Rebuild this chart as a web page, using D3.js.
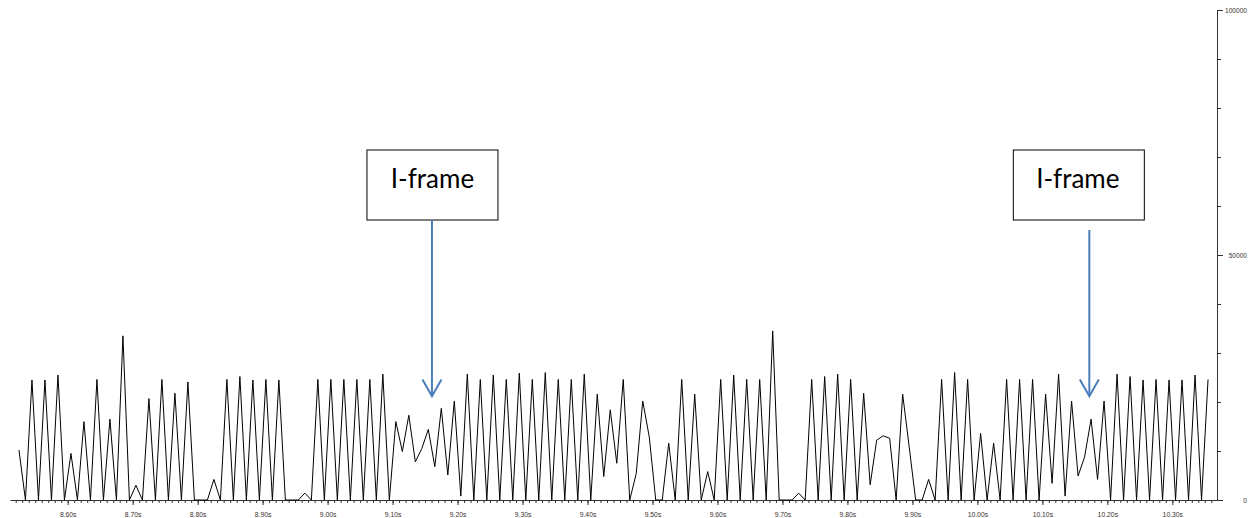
<!DOCTYPE html>
<html>
<head>
<meta charset="utf-8">
<script src="https://cdn.jsdelivr.net/npm/d3@7/dist/d3.min.js"></script>
<style>
  html, body { margin: 0; padding: 0; background: #fff; }
  svg { display: block; }
</style>
</head>
<body>
<svg id="chart" width="1250" height="518"></svg>
<script>
// ---- data ----
const startTime = 8.525;      // time of first sample (s)
const sampleStep = 0.01;      // sampling interval (s)
const values = [
  10200, 0, 24500, 0, 24500, 0, 25500, 0, 9500, 0,
  16000, 0, 24600, 0, 16500, 0, 33500, 0, 3000, 0,
  20700, 0, 24600, 0, 21800, 0, 24100, 0, 0, 0,
  4200, 0, 24600, 0, 25200, 0, 24500, 0, 24600, 0,
  24500, 0, 0, 0, 1400, 0, 24600, 0, 24600, 0,
  24600, 0, 24600, 0, 24600, 0, 25700, 0, 16000, 9900,
  17300, 7800, 10500, 14400, 6800, 18700, 5100, 20200, 800, 25700,
  0, 24600, 0, 25500, 0, 24600, 0, 25900, 0, 24600,
  0, 26000, 0, 24600, 0, 24600, 0, 25700, 0, 21600,
  4800, 18400, 7500, 24600, 0, 5400, 20200, 12900, 0, 0,
  11600, 0, 24600, 0, 21600, 0, 5800, 0, 24600, 0,
  25500, 0, 24600, 0, 24600, 0, 34500, 0, 0, 0,
  1400, 0, 24600, 0, 25200, 0, 25700, 0, 24600, 0,
  21800, 3100, 12200, 13100, 12600, 0, 21600, 10900, 0, 0,
  4200, 0, 24600, 0, 26000, 0, 24600, 0, 13600, 0,
  11600, 0, 24600, 0, 24600, 0, 24600, 0, 21600, 3400,
  25700, 800, 20200, 4900, 8800, 16500, 4200, 20200, 0, 25700,
  0, 25200, 0, 24500, 0, 24600, 0, 24500, 0, 24500,
  0, 25500, 0, 24600
];
const majorXTicks = [8.6, 8.7, 8.8, 8.9, 9.0, 9.1, 9.2, 9.3, 9.4, 9.5, 9.6, 9.7, 9.8, 9.9, 10.0, 10.1, 10.2, 10.3];
const yLabelTicks = [0, 50000, 100000];
const annotationLabels = ["I-frame", "I-frame"];
const annotationTimes = [9.1606, 10.1723];   // arrow x positions (s)
const annotationTipValues = [21200, 21200];  // arrow tip heights

// ---- scales ----
const svg = d3.select("#chart");
const pxPerSec = (1172.3 - 67.7) / 1.7;
const x = d3.scaleLinear()
  .domain([8.6 - (67.7 - 10) / pxPerSec, 10.3 + (1217 - 1172.3) / pxPerSec])
  .range([10, 1217]);
const y = d3.scaleLinear().domain([0, 100000]).range([500, 10]);

const data = values.map((v, i) => ({ t: startTime + i * sampleStep, v }));

// ---- x axis ----
const minorX = d3.range(852, 1037).map(d => d / 100);
const axisColor = "#333";
const gxMinor = svg.append("g").attr("transform", "translate(0,500)")
  .call(d3.axisBottom(x).tickValues(minorX).tickSize(3).tickSizeOuter(0).tickFormat(""));
gxMinor.attr("color", axisColor);

const gxMajor = svg.append("g").attr("transform", "translate(0,500)")
  .call(d3.axisBottom(x).tickValues(majorXTicks).tickSize(5)
    .tickFormat(d => d3.format(".2f")(d) + "s"));
gxMajor.attr("color", axisColor);
gxMajor.select(".domain").remove();
gxMajor.selectAll("text")
  .attr("font-family", "Liberation Sans, Arial, sans-serif")
  .attr("font-size", "6.8px")
  .attr("fill", "#3a3430")
  .attr("y", 17).attr("dy", 0);

// ---- y axis (right) ----
const gyMinor = svg.append("g").attr("transform", "translate(1217,0)")
  .call(d3.axisRight(y).tickValues(d3.range(0, 100001, 10000)).tickSize(4).tickSizeOuter(0).tickFormat(""));
gyMinor.attr("color", axisColor);

const gyMajor = svg.append("g").attr("transform", "translate(1217,0)")
  .call(d3.axisRight(y).tickValues(yLabelTicks).tickSize(6).tickFormat(d3.format("d")));
gyMajor.attr("color", axisColor);
gyMajor.select(".domain").remove();
gyMajor.selectAll("text")
  .attr("font-family", "Liberation Sans, Arial, sans-serif")
  .attr("font-size", "6.6px")
  .attr("fill", "#3a3430")
  .attr("text-anchor", "end")
  .attr("x", 30);

// ---- line ----
const line = d3.line().x(d => x(d.t)).y(d => y(d.v));
svg.append("path")
  .datum(data)
  .attr("fill", "none")
  .attr("stroke", "#000")
  .attr("stroke-width", 1)
  .attr("d", line);

// ---- annotations ----
const boxW = 131, boxH = 70, boxTop = 150;
const arrowColor = "#4a7ebb";
const arrowStartGap = [0, 10];
annotationLabels.forEach((lab, i) => {
  const cx = x(annotationTimes[i]);
  const g = svg.append("g");
  g.append("rect")
    .attr("x", cx - boxW / 2 + (i === 0 ? 0.5 : -10.5))
    .attr("y", boxTop)
    .attr("width", boxW).attr("height", boxH)
    .attr("fill", "#fff").attr("stroke", "#000").attr("stroke-width", 1);
  g.append("text")
    .attr("x", cx + (i === 0 ? 0.5 : -11.5))
    .attr("y", 188)
    .attr("text-anchor", "middle")
    .attr("font-family", "Lato, 'Open Sans', sans-serif")
    .attr("font-size", "26px")
    .attr("fill", "#000")
    .text(lab);
  const tipY = y(annotationTipValues[i]);
  g.append("line")
    .attr("x1", cx).attr("x2", cx)
    .attr("y1", boxTop + boxH + arrowStartGap[i]).attr("y2", tipY - 1)
    .attr("stroke", arrowColor).attr("stroke-width", 2);
  g.append("path")
    .attr("d", `M${cx - 9.5},${tipY - 16.7} L${cx},${tipY} L${cx + 9.5},${tipY - 16.7}`)
    .attr("fill", "none").attr("stroke", arrowColor).attr("stroke-width", 2);
});
</script>
</body>
</html>
